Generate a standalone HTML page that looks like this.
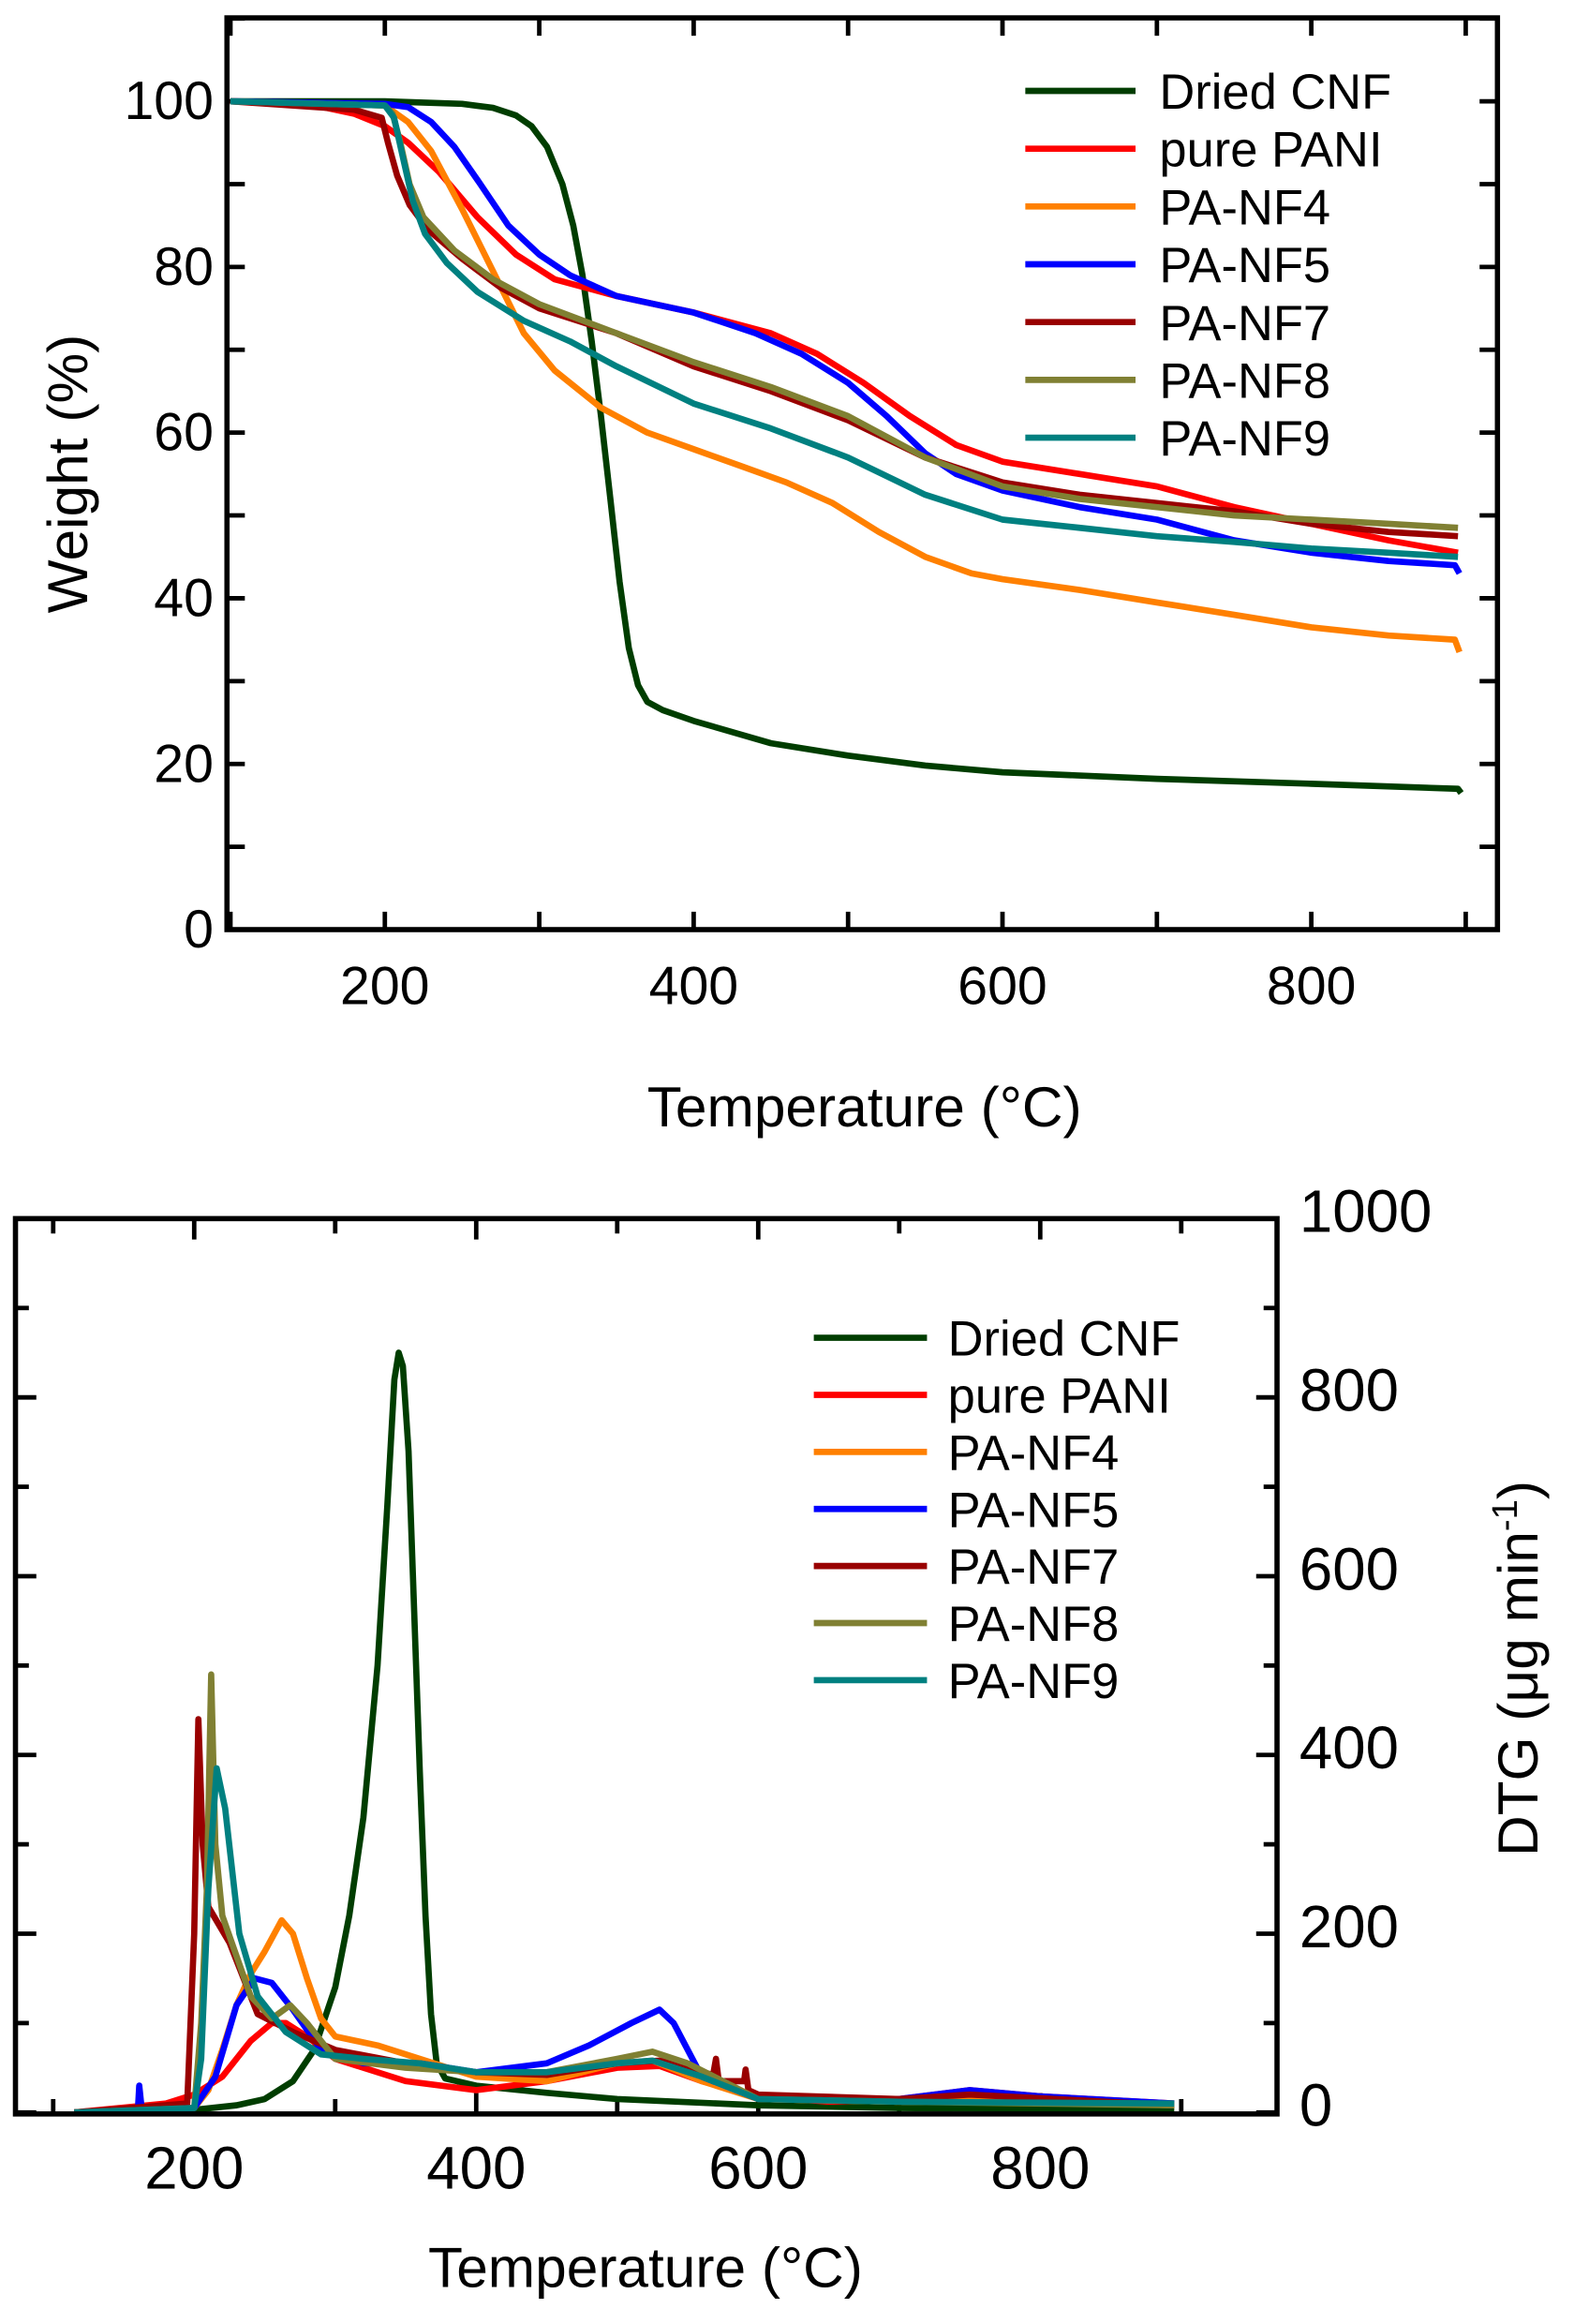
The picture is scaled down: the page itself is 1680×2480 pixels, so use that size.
<!DOCTYPE html>
<html><head><meta charset="utf-8">
<style>
html,body{margin:0;padding:0;background:#fff;}
svg{display:block;}
text{font-family:"Liberation Sans",sans-serif;fill:#000;}
</style></head>
<body>
<svg id="fig" width="1680" height="2480" viewBox="0 0 1056 1560" xmlns="http://www.w3.org/2000/svg">
<g id="topChart"></g>
<g id="botChart"></g>
</svg>
<script>
const seriesNames = ["Dried CNF","pure PANI","PA-NF4","PA-NF5","PA-NF7","PA-NF8","PA-NF9"];
const seriesColors = ["#003d00","#ff0000","#ff8000","#0000ff","#990000","#808033","#008080"];
// TGA weight (%) : [temperature, weight] pairs
const tgaCNF = [[100,100],[200,100],[250,99.7],[270,99.2],[285,98.3],[295,97],[305,94.5],[315,90],[322,85],[328,79],[334,71],[340,62],[346,52],[352,42],[358,34],[364,29.5],[370,27.5],[380,26.5],[400,25.2],[450,22.5],[500,21],[550,19.8],[600,19],[700,18.2],[800,17.6],[895,17],[897,16.5]];
const tgaPANI = [[100,100],[150,99.7],[180,98.5],[200,97],[215,95],[235,91.5],[260,86],[285,81.5],[310,78.5],[350,76.5],[400,74.5],[450,72],[480,69.5],[510,66],[540,62],[570,58.5],[600,56.5],[650,55],[700,53.5],[750,51],[800,49],[850,47],[895,45.5]];
const tgaNF4 = [[100,100],[200,99.5],[215,97.5],[230,94],[250,87],[270,79.5],[290,72],[310,67.5],[340,63],[370,60],[400,58],[430,56],[460,54],[490,51.5],[520,48],[550,45],[580,43],[600,42.3],[650,41],[700,39.5],[750,38],[800,36.5],[850,35.5],[893,35],[896,33.5]];
const tgaNF5 = [[100,100],[200,99.7],[215,99.3],[230,97.5],[245,94.5],[260,90.5],[280,85],[300,81.5],[320,79],[350,76.5],[400,74.5],[440,72],[470,69.5],[500,66],[525,62],[550,57.5],[570,55],[600,53],[650,51],[700,49.5],[750,47],[800,45.5],[850,44.5],[893,44],[896,43]];
const tgaNF7 = [[100,100],[180,99],[198,98],[202,95],[208,91],[216,87.5],[228,84.5],[250,81],[275,77.5],[300,75],[350,72],[400,68],[450,65],[500,61.5],[550,57],[600,54],[650,52.5],[700,51.5],[750,50.5],[800,49],[850,48],[895,47.5]];
const tgaNF8 = [[100,100],[200,99.5],[205,98.5],[210,95],[216,90],[225,86],[245,82],[270,78.5],[300,75.5],[350,72],[400,68.5],[450,65.5],[500,62],[550,57],[600,53.5],[650,52],[700,51],[750,50],[800,49.5],[850,49],[895,48.5]];
const tgaNF9 = [[100,100],[200,99.5],[206,98],[212,93],[218,88],[226,84],[240,80.5],[260,77],[290,73.5],[320,71],[350,68],[400,63.5],[450,60.5],[500,57],[550,52.5],[600,49.5],[650,48.5],[700,47.5],[750,46.8],[800,46],[850,45.5],[895,45]];
// DTG (ug/min)
const dtgCNF = [[115,0],[200,3],[230,8],[250,15],[270,35],[285,70],[300,140],[310,220],[320,330],[330,500],[337,680],[342,820],[345,850],[348,835],[352,740],[356,560],[360,380],[364,220],[368,110],[372,55],[378,38],[400,30],[450,22],[500,15],[600,8],[700,5],[800,4],[895,3]];
const dtgPANI = [[115,0],[180,10],[200,20],[220,40],[240,80],[255,100],[265,100],[280,85],[300,60],[350,35],[400,25],[450,35],[500,50],[530,52],[560,35],[600,18],[650,12],[700,15],[750,25],[800,18],[895,10]];
const dtgNF4 = [[115,0],[200,5],[210,25],[220,70],[230,120],[240,155],[250,180],[262,215],[270,200],[280,150],[290,105],[300,85],[330,75],[370,55],[400,40],[450,35],[500,55],[525,58],[560,35],[600,15],[700,12],[750,15],[895,8]];
const dtgNF5 = [[115,0],[160,0],[161,30],[163,0],[200,5],[215,40],[230,120],[243,150],[255,145],[270,115],[290,70],[320,55],[360,55],[400,45],[450,55],[480,75],[510,100],[530,115],[540,100],[560,40],[600,15],[700,15],[750,25],[800,18],[895,10]];
const dtgNF7 = [[115,0],[195,10],[200,200],[203,440],[206,300],[210,230],[225,190],[245,110],[270,90],[300,70],[350,55],[400,45],[450,42],[500,55],[530,58],[568,42],[570,60],[572,35],[590,35],[591,48],[593,25],[600,20],[700,15],[750,20],[895,8]];
const dtgNF8 = [[115,0],[200,5],[205,100],[209,250],[212,490],[215,300],[220,220],[240,130],[255,105],[268,120],[280,100],[300,60],[350,50],[400,45],[450,45],[500,60],[525,68],[550,55],[600,15],[700,12],[895,8]];
const dtgNF9 = [[115,0],[200,5],[205,60],[210,250],[216,385],[222,340],[232,200],[245,130],[265,90],[290,65],[320,60],[360,55],[400,45],[450,45],[500,55],[525,58],[560,40],[600,15],[700,12],[895,10]];
const tgaSeries=[tgaCNF,tgaPANI,tgaNF4,tgaNF5,tgaNF7,tgaNF8,tgaNF9];
const dtgSeries=[dtgCNF,dtgPANI,dtgNF4,dtgNF5,dtgNF7,dtgNF8,dtgNF9];
const xTicks=[200,400,600,800];
const yTicksTop=[0,20,40,60,80,100];
const yTicksBot=[0,200,400,600,800,1000];

const NS="http://www.w3.org/2000/svg";
function mk(parent,tag,attrs,txt){const e=document.createElementNS(NS,tag);for(const k in attrs)e.setAttribute(k,attrs[k]);if(txt!==undefined)e.textContent=txt;parent.appendChild(e);return e;}
const SW=4.2;

// ---------- top chart ----------
const topG=document.getElementById('topChart');
const tx=T=>258+(T-200)*1.0367, ty=v=>624-v*5.56;
const L1=152,R1=1005,T1=12,B1=624;
for(let t=100;t<=900;t+=100){
 let tk=mk(topG,'line',{x1:tx(t),x2:tx(t),y1:B1,y2:B1-12,stroke:'#000','stroke-width':3});
 
 
 mk(topG,'line',{x1:tx(t),x2:tx(t),y1:T1,y2:T1+12,stroke:'#000','stroke-width':3});
}
for(let v=0;v<=110;v+=10){
 mk(topG,'line',{x1:L1,x2:L1+12,y1:ty(v),y2:ty(v),stroke:'#000','stroke-width':3});
 mk(topG,'line',{x1:R1,x2:R1-12,y1:ty(v),y2:ty(v),stroke:'#000','stroke-width':3});
}
xTicks.forEach(t=>{let e=mk(topG,'text',{x:tx(t),y:674,'font-size':36,'text-anchor':'middle'},String(t));
 
 });
yTicksTop.forEach(v=>{let e=mk(topG,'text',{x:143,y:ty(v)+12,'font-size':36,'text-anchor':'end'},String(v));
 
 });
let yl=mk(topG,'text',{x:0,y:0,'font-size':38,'text-anchor':'middle',transform:'translate(58,318) rotate(-90)'},'Weight (%)');


let xl=mk(topG,'text',{x:580,y:756,'font-size':38,'text-anchor':'middle'},'Temperature (°C)');


tgaSeries.forEach((s,i)=>{let p=mk(topG,'polyline',{points:s.map(d=>tx(d[0]).toFixed(1)+','+ty(d[1]).toFixed(1)).join(' '),fill:'none',stroke:seriesColors[i],'stroke-width':SW,'stroke-linejoin':'round'});
 
 });
let f1=mk(topG,'rect',{x:L1,y:T1,width:R1-L1,height:B1-T1,fill:'none',stroke:'#000','stroke-width':3.5});


seriesNames.forEach((n,i)=>{const y=61+i*38.8;
 let g=mk(topG,'g',{});
 
 
 mk(g,'line',{x1:688,x2:762,y1:y,y2:y,stroke:seriesColors[i],'stroke-width':SW});
 mk(g,'text',{x:778,y:y+12,'font-size':33},n);});

// ---------- bottom chart ----------
const botG=document.getElementById('botChart');
const bx=T=>130+(T-200)*0.9467, byy=v=>1418-v*0.6;
const L2=10,R2=857,T2=818,B2=1419;
for(let t=100;t<=900;t+=100){
 const len=(t%200===0)?14:10;
 mk(botG,'line',{x1:bx(t),x2:bx(t),y1:B2,y2:B2-len,stroke:'#000','stroke-width':3});
 mk(botG,'line',{x1:bx(t),x2:bx(t),y1:T2,y2:T2+len,stroke:'#000','stroke-width':3});
}
for(let v=0;v<=1000;v+=100){
 const len=(v%200===0)?14:9;
 mk(botG,'line',{x1:L2,x2:L2+len,y1:byy(v),y2:byy(v),stroke:'#000','stroke-width':3});
 mk(botG,'line',{x1:R2,x2:R2-len,y1:byy(v),y2:byy(v),stroke:'#000','stroke-width':3});
}
xTicks.forEach(t=>{let e=mk(botG,'text',{x:bx(t),y:1469,'font-size':40,'text-anchor':'middle'},String(t));
 
 });
yTicksBot.forEach(v=>{let e=mk(botG,'text',{x:872,y:byy(v)+9,'font-size':40},String(v));
 
 });
let yl2=mk(botG,'text',{x:0,y:0,'font-size':38,'text-anchor':'middle',transform:'translate(1032,1120) rotate(-90)'});


mk(yl2,'tspan',{},'DTG (μg min');mk(yl2,'tspan',{dy:-14,'font-size':24},'-1');mk(yl2,'tspan',{dy:14},')');
let xl2=mk(botG,'text',{x:433,y:1535,'font-size':38,'text-anchor':'middle'},'Temperature (°C)');


dtgSeries.forEach((s,i)=>{let p=mk(botG,'polyline',{points:s.map(d=>bx(d[0]).toFixed(1)+','+byy(d[1]).toFixed(1)).join(' '),fill:'none',stroke:seriesColors[i],'stroke-width':SW,'stroke-linejoin':'round'});
 
 });
let f2=mk(botG,'rect',{x:L2,y:T2,width:R2-L2,height:B2-T2,fill:'none',stroke:'#000','stroke-width':3.5});


seriesNames.forEach((n,i)=>{const y=898+i*38.3;
 let g=mk(botG,'g',{});
 
 
 mk(g,'line',{x1:546,x2:622,y1:y,y2:y,stroke:seriesColors[i],'stroke-width':SW});
 mk(g,'text',{x:636,y:y+12,'font-size':33},n);});
</script>
</body></html>
